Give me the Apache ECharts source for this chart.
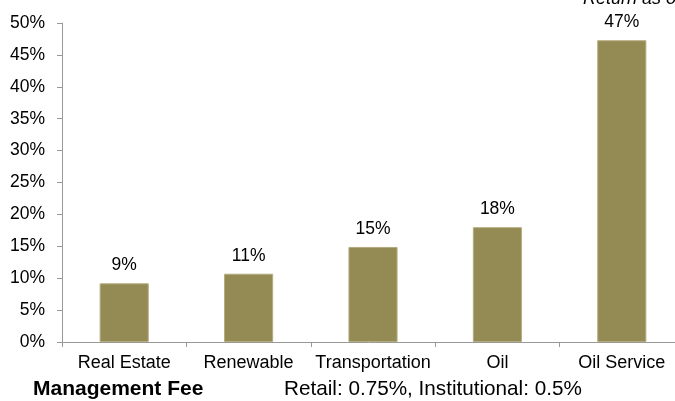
<!DOCTYPE html>
<html><head><meta charset="utf-8">
<script src="https://cdn.jsdelivr.net/npm/echarts@6/dist/echarts.min.js"></script>
<style>html,body{margin:0;padding:0;background:#fff}#c{width:675px;height:401px}</style>
</head><body><div id="c"></div>
<script>
const categories = ["Real Estate", "Renewable", "Transportation", "Oil", "Oil Service"];
const returns = [9.2, 10.7, 14.9, 18.0, 47.3];
const yTicks = [0, 5, 10, 15, 20, 25, 30, 35, 40, 45, 50];

const F = "'Liberation Sans', Arial, sans-serif";
const chart = echarts.init(document.getElementById('c'), null, {renderer: 'canvas'});
chart.setOption({
  animation: false,
  grid: {left: 62, width: 622, top: 23, height: 319, containLabel: false, outerBoundsMode: 'none'},
  xAxis: {
    type: 'category', data: categories,
    axisLine: {lineStyle: {color: '#999', width: 1}},
    axisTick: {show: true, length: 5, lineStyle: {color: '#999'}},
    axisLabel: {interval: 0, color: '#000', fontFamily: F, fontSize: 18, margin: 12}
  },
  yAxis: {
    type: 'value', min: yTicks[0], max: yTicks[yTicks.length - 1], interval: 5,
    axisLine: {show: true, lineStyle: {color: '#999', width: 1}},
    axisTick: {show: true, length: 5, lineStyle: {color: '#999'}},
    splitLine: {show: false},
    axisLabel: {color: '#000', fontFamily: F, fontSize: 17.5, margin: 17, formatter: v => v + '%'}
  },
  series: [{
    type: 'bar', data: returns, barWidth: '39.5%',
    itemStyle: {color: '#948A54', borderColor: '#B5AD80', borderWidth: 1},
    label: {show: true, position: 'top', distance: 9, color: '#000', fontFamily: F, fontSize: 17.5,
      formatter: p => Math.round(p.value) + '%'}
  }],
  graphic: [
    {type: 'text', left: 583, top: -10, style: {text: 'Return as of 12/31', font: 'italic 18px ' + F, fill: '#000'}},
    {type: 'text', left: 33, top: 379, style: {text: 'Management Fee', font: 'bold 21px ' + F, fill: '#000'}},
    {type: 'text', left: 284, top: 379, style: {text: 'Retail: 0.75%, Institutional: 0.5%', font: '20.7px ' + F, fill: '#000'}}
  ]
});
</script></body></html>
